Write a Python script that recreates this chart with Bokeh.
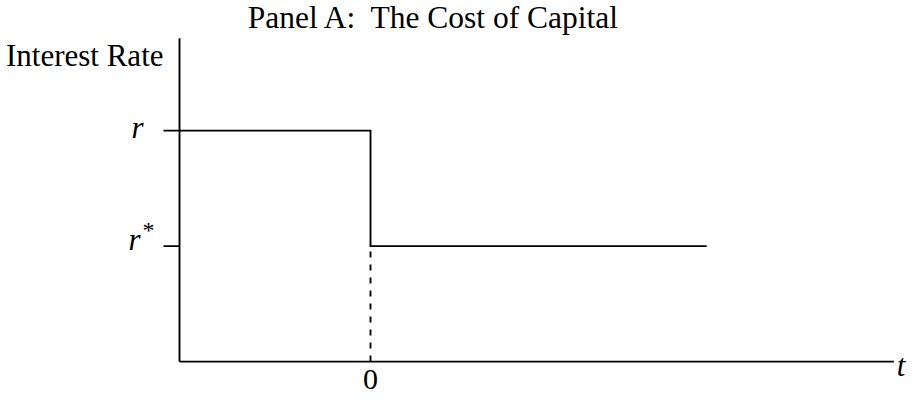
from bokeh.plotting import figure
from bokeh.embed import file_html
from bokeh.resources import INLINE
from bokeh.core.properties import value

# ---- data (schematic values) ----
title_text = "Panel A:\u00a0 The Cost of Capital"
y_axis_title = "Interest Rate"
x_axis_title = "t"
time_points = [-1.0, 0.0, 1.76]      # start of axis, time of the cut, end of the path
time_axis = [-1.0, 2.74]             # extent of the time axis
rate_axis = [0.0, 2.8]               # extent of the rate axis
rate_levels = [2.0, 1.0]             # r before the cut, r* after the cut
rate_labels = ["r", "r"]
rate_superscripts = ["", "*"]
x_tick_values = [0.0]
x_tick_labels = ["0"]

FONT = value("Liberation Serif")
W, H = 907, 397
X_RANGE = (-1.9372, 2.8115)
Y_RANGE = (-0.3108, 3.1264)
LW = 1.9

p = figure(width=W, height=H, x_range=X_RANGE, y_range=Y_RANGE,
           output_backend="svg", toolbar_location=None,
           min_border=0, min_border_left=0, min_border_right=0,
           min_border_top=0, min_border_bottom=0)
p.axis.visible = False
p.grid.visible = False
p.outline_line_color = None
p.background_fill_color = "white"
p.border_fill_color = "white"

px_per_x = W / (X_RANGE[1] - X_RANGE[0])

# axes (drawn as lines through the data scales)
x0 = time_axis[0]
p.line(x=[x0, x0], y=rate_axis, line_color="black", line_width=LW)
p.line(x=time_axis, y=[rate_axis[0], rate_axis[0]], line_color="black", line_width=LW)

# tick marks on the rate axis
tick_len = 16 / px_per_x
p.segment(x0=[x0 - tick_len] * len(rate_levels), y0=rate_levels,
          x1=[x0] * len(rate_levels), y1=rate_levels,
          line_color="black", line_width=LW)

# interest-rate path: r until the cut, then r*
t_start, t_cut, t_end = time_points
r_hi, r_lo = rate_levels
p.line(x=[t_start, t_cut, t_cut, t_end], y=[r_hi, r_hi, r_lo, r_lo],
       line_color="black", line_width=LW, line_join="miter")

# dashed drop line at the cut
p.line(x=[t_cut, t_cut], y=[rate_axis[0], r_lo], line_color="black",
       line_width=LW, line_dash="6 7")

# rate tick labels
p.text(x=[x0, x0], y=rate_levels, text=rate_labels,
       x_offset=[-36, -39], y_offset=[-3, -7],
       text_font=FONT, text_font_style="italic", text_font_size="31px",
       text_align="right", text_baseline="alphabetic", text_color="black")
p.text(x=[x0] * len(rate_levels), y=rate_levels, text=rate_superscripts,
       x_offset=-37, y_offset=-16,
       text_font=FONT, text_font_size="24px",
       text_align="left", text_baseline="alphabetic", text_color="black")

# time tick label
p.text(x=x_tick_values, y=[rate_axis[0]] * len(x_tick_values), text=x_tick_labels,
       y_offset=18, text_font=FONT, text_font_size="30px",
       text_align="center", text_baseline="alphabetic", text_color="black")

# axis titles
p.text(x=[x0], y=[rate_axis[1]], text=[y_axis_title], x_offset=-16, y_offset=17,
       text_font=FONT, text_font_size="31px", text_align="right",
       text_baseline="alphabetic", text_color="black")
p.text(x=[time_axis[1]], y=[rate_axis[0]], text=[x_axis_title], x_offset=3, y_offset=4,
       text_font=FONT, text_font_style="italic", text_font_size="31px",
       text_align="left", text_baseline="alphabetic", text_color="black")

# chart title
p.text(x=[0.3325], y=[rate_axis[1]], text=[title_text], y_offset=-21,
       text_font=FONT, text_font_size="31.5px", text_align="center",
       text_baseline="alphabetic", text_color="black")

open("out.html", "w").write(file_html(p, INLINE))
